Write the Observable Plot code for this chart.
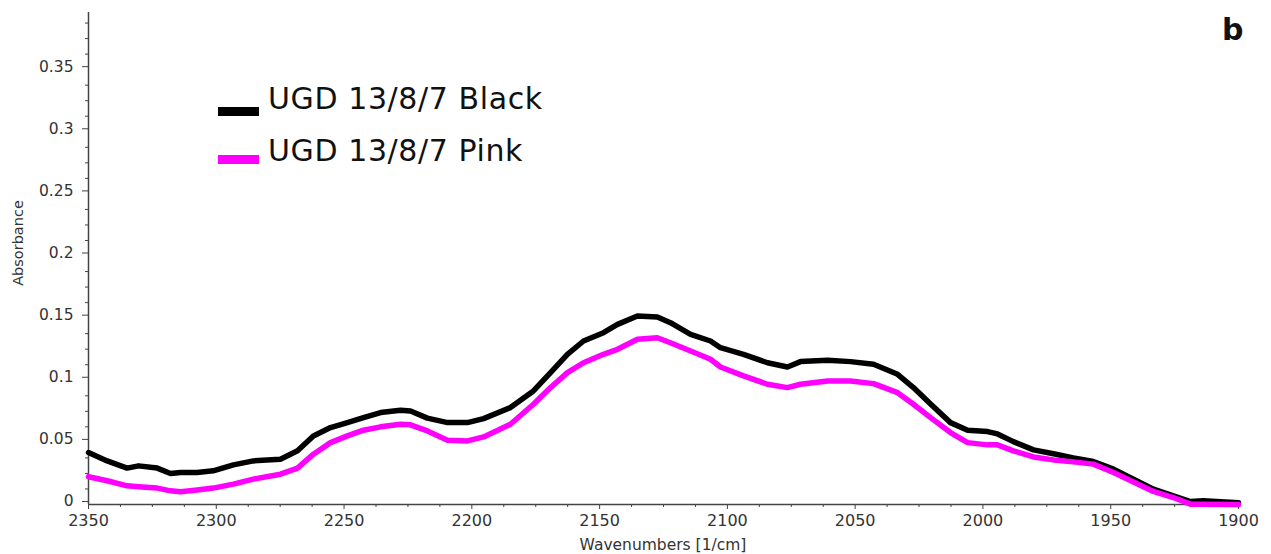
<!DOCTYPE html>
<html>
<head>
<meta charset="utf-8">
<script src="https://cdn.jsdelivr.net/npm/d3@7"></script>
<script src="https://cdn.jsdelivr.net/npm/@observablehq/plot@0.6"></script>
<style>
  html, body { margin: 0; padding: 0; background: #fff; }
  #wrap { position: relative; width: 1271px; height: 554px; font-family: "DejaVu Sans", Verdana, sans-serif; }
  #wrap svg { position: absolute; left: 0; top: 0; }
  .legtext { position: absolute; left: 268px; font-size: 30px; line-height: 35px; letter-spacing: 0.6px; color: #111; white-space: nowrap; }
  .sw { position: absolute; left: 218px; width: 41px; height: 9px; }
  #tag { position: absolute; left: 1222px; top: 12px; font-size: 30px; font-weight: bold; color: #111; }
</style>
</head>
<body>
<div id="wrap"></div>
<script>
const wavenumbers = [2350, 2342.7, 2334.9, 2330.4, 2323.1, 2317.9, 2314.0, 2307.5, 2301.2, 2293.3, 2285.5, 2274.9, 2268.2, 2262.0, 2255.3, 2248.7, 2242.4, 2235.7, 2227.9, 2224.0, 2217.4, 2209.5, 2201.7, 2195.4, 2184.9, 2175.9, 2169.2, 2162.6, 2156.3, 2148.5, 2143.0, 2135.2, 2127.4, 2122.3, 2114.4, 2106.6, 2102.7, 2093.7, 2084.3, 2076.5, 2071.4, 2060.8, 2051.8, 2042.8, 2033.4, 2027.2, 2020.5, 2012.7, 2006.0, 1998.2, 1994.3, 1988.1, 1980.2, 1972.4, 1964.6, 1956.8, 1948.9, 1941.1, 1933.3, 1925.5, 1918.8, 1913.8, 1900];
const blackAbs = [0.0418, 0.0351, 0.0293, 0.0311, 0.0293, 0.0249, 0.0257, 0.0257, 0.0271, 0.0319, 0.0351, 0.0365, 0.0432, 0.0552, 0.0619, 0.0659, 0.0699, 0.0740, 0.0759, 0.0753, 0.0695, 0.0659, 0.0659, 0.0691, 0.0780, 0.0914, 0.1061, 0.1209, 0.1316, 0.1383, 0.1450, 0.1517, 0.1509, 0.1463, 0.1370, 0.1316, 0.1262, 0.1209, 0.1141, 0.1107, 0.1150, 0.1161, 0.1150, 0.1129, 0.1048, 0.0941, 0.0809, 0.0659, 0.0598, 0.0587, 0.0568, 0.0506, 0.0440, 0.0408, 0.0375, 0.0346, 0.0285, 0.0204, 0.0124, 0.0070, 0.0024, 0.0030, 0.0014];
const pinkAbs = [0.0223, 0.0191, 0.0150, 0.0142, 0.0132, 0.0110, 0.0102, 0.0116, 0.0132, 0.0164, 0.0204, 0.0244, 0.0293, 0.0405, 0.0498, 0.0552, 0.0598, 0.0625, 0.0646, 0.0641, 0.0592, 0.0518, 0.0512, 0.0544, 0.0646, 0.0807, 0.0941, 0.1061, 0.1141, 0.1209, 0.1249, 0.1330, 0.1342, 0.1302, 0.1236, 0.1169, 0.1107, 0.1035, 0.0968, 0.0941, 0.0968, 0.0994, 0.0994, 0.0973, 0.0900, 0.0807, 0.0699, 0.0579, 0.0498, 0.0480, 0.0480, 0.0432, 0.0383, 0.0359, 0.0343, 0.0325, 0.0257, 0.0182, 0.0105, 0.0056, 0.0003, 0.0003, 0];
const seriesNames = ["UGD 13/8/7 Black", "UGD 13/8/7 Pink"];
const seriesColors = ["#000000", "#ff00ff"];
const xMajor = [2350, 2300, 2250, 2200, 2150, 2100, 2050, 2000, 1950, 1900];
const yMajor = [0, 0.05, 0.1, 0.15, 0.2, 0.25, 0.3, 0.35];
const xLabel = "Wavenumbers [1/cm]";
const yLabel = "Absorbance";
const panelTag = "b";

const blackData = wavenumbers.map((x, i) => ({x, y: blackAbs[i]}));
const pinkData = wavenumbers.map((x, i) => ({x, y: pinkAbs[i]}));
const xMinor = d3.range(0, 37).map(i => 2350 - i * 12.5).filter(v => !xMajor.includes(v));
const yMinor = d3.range(0, 32).map(i => +(i * 0.0125).toFixed(4)).filter(v => !yMajor.some(m => Math.abs(m - v) < 1e-9));
const fmt = d => String(+d.toFixed(2));

const axisColor = "#444";
const plot = Plot.plot({
  width: 1271,
  height: 554,
  marginLeft: 88,
  marginRight: 33,
  marginTop: 12,
  marginBottom: 50,
  style: {fontFamily: '"DejaVu Sans", Verdana, sans-serif', background: "transparent", color: "#333"},
  x: {domain: [2350, 1900]},
  y: {domain: [0, 0.396]},
  marks: [
    Plot.axisX({ticks: xMajor, tickSize: 5, tickPadding: 5, tickFormat: d => String(d), fontSize: 16, stroke: axisColor, fill: "#333", label: null}),
    Plot.axisX({ticks: xMinor, tickSize: 3, tickFormat: null, text: null, stroke: axisColor, label: null}),
    Plot.axisY({ticks: yMajor, tickSize: 6, tickPadding: 9, tickFormat: fmt, fontSize: 15.5, stroke: axisColor, fill: "#333", label: null, dy: -3}),
    Plot.axisY({ticks: yMinor, tickSize: 3, tickFormat: null, text: null, stroke: axisColor, label: null}),
    Plot.ruleY([0], {stroke: axisColor, strokeWidth: 1.5}),
    Plot.ruleX([2350], {stroke: axisColor, strokeWidth: 1.5}),
    Plot.line(blackData, {x: "x", y: "y", stroke: seriesColors[0], strokeWidth: 5.5, strokeLinejoin: "round"}),
    Plot.line(pinkData, {x: "x", y: "y", stroke: seriesColors[1], strokeWidth: 5.5, strokeLinejoin: "round"})
  ]
});
const wrap = document.getElementById("wrap");
wrap.appendChild(plot);

// axis titles as SVG text
const svg = d3.select(plot);
svg.append("text").attr("x", 663).attr("y", 550).attr("text-anchor", "middle")
  .attr("font-size", 15.5).attr("fill", "#333").text(xLabel);
svg.append("text").attr("transform", "translate(23,243) rotate(-90)").attr("text-anchor", "middle")
  .attr("font-size", 14.5).attr("fill", "#333").text(yLabel);

// legend
const textTops = [81, 133];
const swTops = [107, 155];
seriesNames.forEach((name, i) => {
  const sw = document.createElement("div");
  sw.className = "sw";
  sw.style.top = swTops[i] + "px";
  sw.style.background = seriesColors[i];
  wrap.appendChild(sw);
  const t = document.createElement("div");
  t.className = "legtext";
  t.style.top = textTops[i] + "px";
  t.textContent = name;
  wrap.appendChild(t);
});
const tag = document.createElement("div");
tag.id = "tag"; tag.textContent = panelTag;
wrap.appendChild(tag);
</script>
</body>
</html>
